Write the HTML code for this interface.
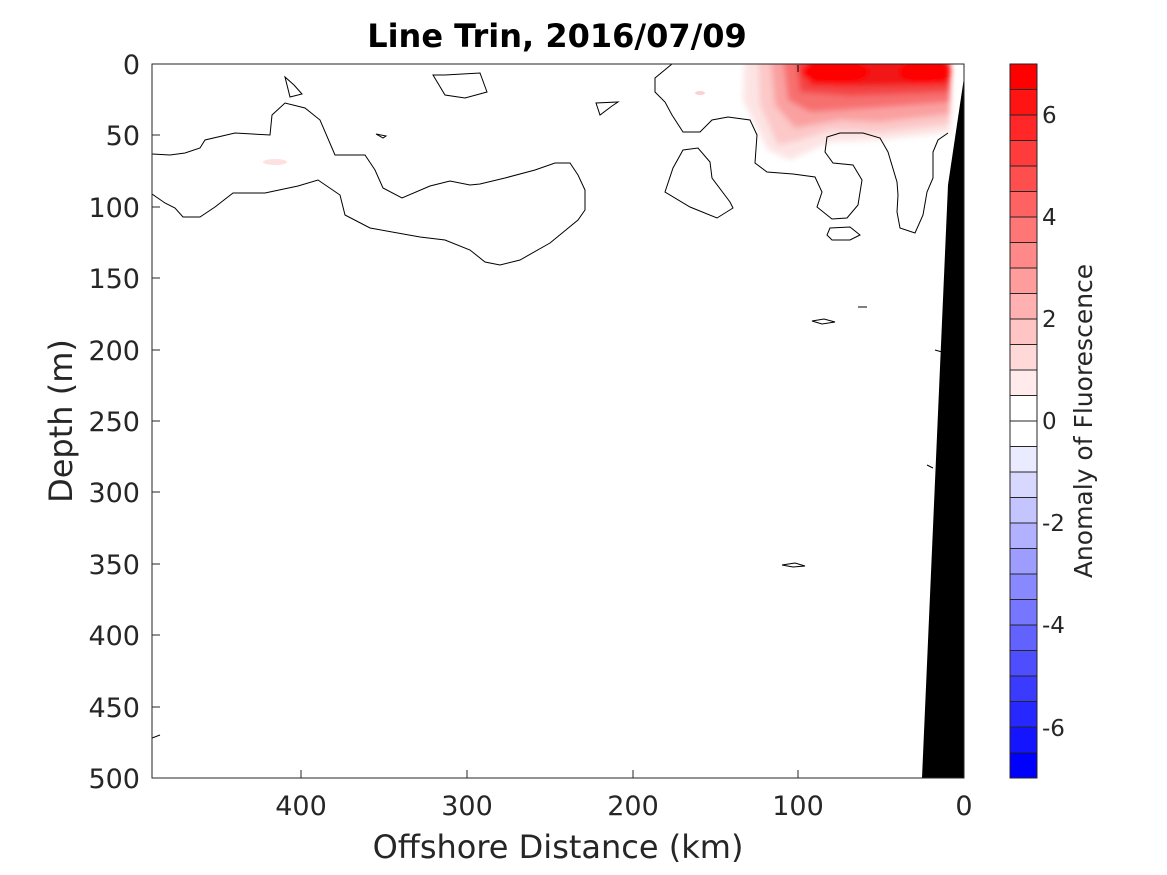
<!DOCTYPE html>
<html><head><meta charset="utf-8"><style>body{margin:0;background:#fff}svg{display:block}</style></head><body>
<svg width="1167" height="875" xmlns="http://www.w3.org/2000/svg" font-family="'DejaVu Sans','Liberation Sans',sans-serif">
<defs>
<clipPath id="pc"><rect x="152" y="64" width="812" height="714"/></clipPath>
<filter id="bl" x="-20%" y="-20%" width="140%" height="140%"><feGaussianBlur stdDeviation="3"/></filter>
</defs>
<rect width="1167" height="875" fill="#fff"/>
<g clip-path="url(#pc)">
<g filter="url(#bl)">
<polygon points="745,50 743,100 768,150 790,160 830,142 880,140 950,132 950,50" fill="#fde4e4"/>
<polygon points="758,50 760,105 778,145 800,140 830,130 880,132 950,124 950,50" fill="#fcc8c8"/>
<polygon points="770,50 775,105 795,128 840,120 880,122 950,114 950,50" fill="#faa0a0"/>
<polygon points="782,50 788,100 810,112 870,108 950,102 950,50" fill="#f77070"/>
<polygon points="795,50 800,92 850,96 950,92 950,50" fill="#f44444"/>
<polygon points="805,50 810,85 860,86 950,84 950,50" fill="#f21818"/>
<ellipse cx="835" cy="72" rx="34" ry="12" fill="#f00"/>
<ellipse cx="925" cy="72" rx="26" ry="12" fill="#f00"/>
</g>
<ellipse cx="700" cy="93" rx="5" ry="2" fill="#fcd0d0"/>
<ellipse cx="275" cy="162" rx="12" ry="3" fill="#fde0e0"/>
<polygon points="966,64 948,185 922,778 966,778" fill="#000"/>
<g fill="none" stroke="#000" stroke-width="1">
<polyline points="152,154 170,155 185,153 200,148 205,140 235,133 270,135 272,115 285,103 305,108 320,120 335,155 365,155 375,170 383,188 402,198 430,186 450,181 470,185 480,184 505,178 535,170 555,163 570,163 578,175 585,190 585,210 578,220 550,243 520,260 500,265 485,262 470,250 445,240 420,237 370,228 345,215 340,195 318,180 298,186 265,193 233,193 215,207 200,217 183,217 175,208 165,203 152,194"/>
<polygon points="285,77 290,97 302,94 294,85"/>
<polygon points="433,75 445,95 465,98 487,92 480,73 445,75"/>
<polygon points="596,103 600,115 612,106 618,102"/>
<polygon points="376,134 386,136 383,138"/>
<polygon points="812,321 824,319 835,322 822,324"/>
<polyline points="858,307 867,307"/>
<polygon points="782,565 795,563 805,566 793,567"/>
<polyline points="152,738 160,735"/>
<polyline points="798,65 798,72"/>
<polyline points="672,64 655,78 655,92 665,102 672,115 683,132 700,132 712,120 728,117 750,120 757,135 755,163 767,172 793,174 815,177 822,192 817,207 832,219 847,218 858,205 862,180 853,165 833,163 825,152 827,137 840,133 863,133 880,138 888,152 897,182 898,195 897,212 900,228 915,233 923,215 927,192 933,178 933,152 938,140 948,133"/>
<polygon points="683,150 698,148 710,162 712,178 730,202 733,208 717,218 690,207 665,192 673,168"/>
<polygon points="830,228 850,227 860,235 850,240 832,240 827,235"/>
<polyline points="935,350 942,352"/>
<polyline points="927,465 933,468"/>
</g>
</g>
<rect x="152" y="64" width="812" height="714" fill="none" stroke="#262626" stroke-width="1"/>
<g stroke="#262626" stroke-width="1">
<line x1="301" y1="778" x2="301" y2="770"/><line x1="467" y1="778" x2="467" y2="770"/><line x1="633" y1="778" x2="633" y2="770"/><line x1="798" y1="778" x2="798" y2="770"/>
<line x1="152" y1="135" x2="160" y2="135"/><line x1="152" y1="207" x2="160" y2="207"/><line x1="152" y1="278" x2="160" y2="278"/><line x1="152" y1="350" x2="160" y2="350"/><line x1="152" y1="421" x2="160" y2="421"/><line x1="152" y1="492" x2="160" y2="492"/><line x1="152" y1="564" x2="160" y2="564"/><line x1="152" y1="635" x2="160" y2="635"/><line x1="152" y1="707" x2="160" y2="707"/>
</g>
<g fill="#262626" font-size="27" text-anchor="end">
<text x="140" y="74">0</text><text x="140" y="145">50</text><text x="140" y="217">100</text><text x="140" y="288">150</text><text x="140" y="360">200</text><text x="140" y="431">250</text><text x="140" y="502">300</text><text x="140" y="574">350</text><text x="140" y="645">400</text><text x="140" y="717">450</text><text x="140" y="788">500</text>
</g>
<g fill="#262626" font-size="27" text-anchor="middle">
<text x="301" y="815">400</text><text x="467" y="815">300</text><text x="633" y="815">200</text><text x="798" y="815">100</text><text x="964" y="815">0</text>
<text x="558" y="858" font-size="32">Offshore Distance (km)</text>
<text x="557" y="47" font-size="32" font-weight="bold" fill="#000">Line Trin, 2016/07/09</text>
<text transform="translate(72,421) rotate(-90)" font-size="32">Depth (m)</text>
<text transform="translate(1092,421) rotate(-90)" font-size="25">Anomaly of Fluorescence</text>
</g>
<g stroke="#262626" stroke-width="1">
<rect x="1010" y="64.0" width="27" height="25.5" fill="rgb(255,0,0)"/>
<rect x="1010" y="89.5" width="27" height="25.5" fill="rgb(255,20,20)"/>
<rect x="1010" y="115.0" width="27" height="25.5" fill="rgb(255,39,39)"/>
<rect x="1010" y="140.5" width="27" height="25.5" fill="rgb(255,59,59)"/>
<rect x="1010" y="166.0" width="27" height="25.5" fill="rgb(255,78,78)"/>
<rect x="1010" y="191.5" width="27" height="25.5" fill="rgb(255,98,98)"/>
<rect x="1010" y="217.0" width="27" height="25.5" fill="rgb(255,118,118)"/>
<rect x="1010" y="242.5" width="27" height="25.5" fill="rgb(255,137,137)"/>
<rect x="1010" y="268.0" width="27" height="25.5" fill="rgb(255,157,157)"/>
<rect x="1010" y="293.5" width="27" height="25.5" fill="rgb(255,177,177)"/>
<rect x="1010" y="319.0" width="27" height="25.5" fill="rgb(255,196,196)"/>
<rect x="1010" y="344.5" width="27" height="25.5" fill="rgb(255,216,216)"/>
<rect x="1010" y="370.0" width="27" height="25.5" fill="rgb(255,235,235)"/>
<rect x="1010" y="395.5" width="27" height="25.5" fill="rgb(255,255,255)"/>
<rect x="1010" y="421.0" width="27" height="25.5" fill="rgb(255,255,255)"/>
<rect x="1010" y="446.5" width="27" height="25.5" fill="rgb(235,235,255)"/>
<rect x="1010" y="472.0" width="27" height="25.5" fill="rgb(216,216,255)"/>
<rect x="1010" y="497.5" width="27" height="25.5" fill="rgb(196,196,255)"/>
<rect x="1010" y="523.0" width="27" height="25.5" fill="rgb(177,177,255)"/>
<rect x="1010" y="548.5" width="27" height="25.5" fill="rgb(157,157,255)"/>
<rect x="1010" y="574.0" width="27" height="25.5" fill="rgb(137,137,255)"/>
<rect x="1010" y="599.5" width="27" height="25.5" fill="rgb(118,118,255)"/>
<rect x="1010" y="625.0" width="27" height="25.5" fill="rgb(98,98,255)"/>
<rect x="1010" y="650.5" width="27" height="25.5" fill="rgb(78,78,255)"/>
<rect x="1010" y="676.0" width="27" height="25.5" fill="rgb(59,59,255)"/>
<rect x="1010" y="701.5" width="27" height="25.5" fill="rgb(39,39,255)"/>
<rect x="1010" y="727.0" width="27" height="25.5" fill="rgb(20,20,255)"/>
<rect x="1010" y="752.5" width="27" height="25.5" fill="rgb(0,0,255)"/>
</g>
<g fill="#262626" font-size="23">
<text x="1042" y="123">6</text><text x="1042" y="225">4</text><text x="1042" y="327">2</text><text x="1042" y="429">0</text><text x="1042" y="531">-2</text><text x="1042" y="633">-4</text><text x="1042" y="736">-6</text>
</g>
</svg>
</body></html>
